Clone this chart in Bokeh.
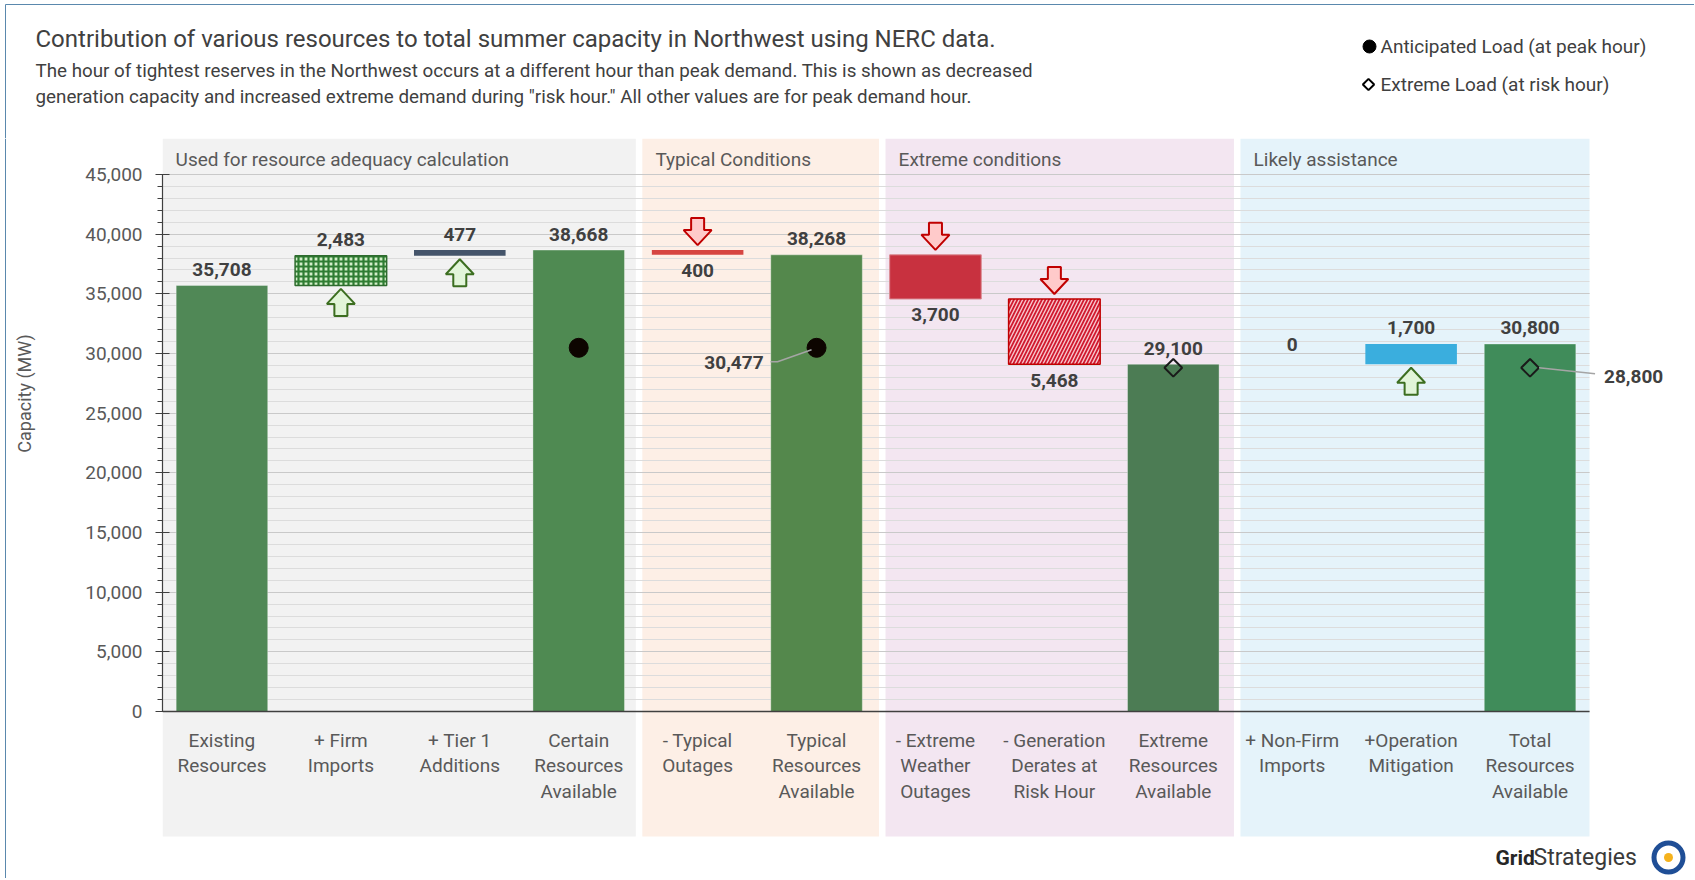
import numpy as np
from bokeh.plotting import figure
from bokeh.layouts import column, row
from bokeh.models import Range1d, FixedTicker, NumeralTickFormatter
from bokeh.core.properties import value
from bokeh.embed import file_html
from bokeh.resources import INLINE

# ---------------- data ----------------
categories = ["Existing\nResources", "+ Firm\nImports", "+ Tier 1\nAdditions",
              "Certain\nResources\nAvailable", "- Typical\nOutages",
              "Typical\nResources\nAvailable", "- Extreme\nWeather\nOutages",
              "- Generation\nDerates at\nRisk Hour", "Extreme\nResources\nAvailable",
              "+ Non-Firm\nImports", "+Operation\nMitigation",
              "Total\nResources\nAvailable"]
values = [35708, 2483, 477, 38668, -400, 38268, -3700, -5468, 29100, 0, 1700, 30800]
is_total = [True, False, False, True, False, True, False, False, True, False, False, True]
value_labels = ["35,708", "2,483", "477", "38,668", "400", "38,268", "3,700",
                "5,468", "29,100", "0", "1,700", "30,800"]
anticipated_load = 30477
anticipated_label = "30,477"
anticipated_idx = [3, 5]
extreme_load = 28800
extreme_label = "28,800"
extreme_idx = [8, 11]
groups = ["Used for resource adequacy calculation", "Typical Conditions",
          "Extreme conditions", "Likely assistance"]
group_left = [0.0, 4.035, 6.08, 9.065]
group_right = [3.98, 6.025, 9.01, 12.0]
group_colors = ["#f2f2f2", "#fdefe6", "#f3e6f1", "#e5f3fa"]
y_ticks = list(range(0, 45001, 5000))
y_minor_ticks = list(range(0, 45001, 1000))

title_text = "Contribution of various resources to total summer capacity in Northwest using NERC data."
subtitle_lines = ["The hour of tightest reserves in the Northwest occurs at a different hour than peak demand. This is shown as decreased",
                  'generation capacity and increased extreme demand during "risk hour." All other values are for peak demand hour.']
legend_labels = ["Anticipated Load (at peak hour)", "Extreme Load (at risk hour)"]

# waterfall geometry
n = len(categories)
xc = np.arange(n) + 0.5
bottoms, tops = [], []
running = 0
for v, t in zip(values, is_total):
    if t:
        b, tp = 0, v
        running = v
    else:
        b, tp = min(running, running + v), max(running, running + v)
        running += v
    bottoms.append(b)
    tops.append(tp)

# ---------------- layout constants ----------------
PAGE_W = 1694
HEAD_H = 138
MAIN_H = 740
YLAB_W = 40
AXIS_X = 162            # page x of the value axis
ZERO_Y = 711            # page y of 0 MW
TOP_Y = 174             # page y of 45,000 MW
CAT_W = 118.917         # px per category
MW = 45000 / (ZERO_Y - TOP_Y)   # MW per px
U = 1 / CAT_W                    # category units per px

FONT = "Roboto"
TXT = "#404040"
GRAY = "#595959"
FRAME = "#5a88ad"


def px(xp):
    return (xp - AXIS_X) * U


def py(yp):
    return (ZERO_Y - yp) * MW


# ---------------- header figure ----------------
head = figure(width=PAGE_W, height=HEAD_H, x_range=Range1d(0, PAGE_W),
              y_range=Range1d(HEAD_H, 0), output_backend="svg", toolbar_location=None,
              x_axis_location=None, y_axis_location=None, min_border=0,
              outline_line_color=None)
head.grid.visible = False
head.segment(x0=[5, 5], y0=[4, 4], x1=[PAGE_W, 5], y1=[4, HEAD_H],
             line_color=FRAME, line_width=1)
head.text(x=[35], y=[38], text=[title_text], text_font=value(FONT),
          text_font_size="24px", text_color=TXT, text_baseline="middle")
head.text(x=[35, 35], y=[70, 96], text=subtitle_lines, text_font=value(FONT),
          text_font_size="18.8px", text_color=TXT, text_baseline="middle")
head.scatter(x=[1369], y=[46], marker="circle", size=13, fill_color="#000000",
             line_color="#000000")
head.scatter(x=[1368], y=[84], marker="square", angle=np.pi / 4, size=8,
             fill_color="white", line_color="#000000", line_width=2)
head.text(x=[1380, 1380], y=[46, 84], text=legend_labels, text_font=value(FONT),
          text_font_size="19px", text_color=TXT, text_baseline="middle")

# ---------------- y label figure ----------------
ylab = figure(width=YLAB_W, height=MAIN_H, x_range=Range1d(0, YLAB_W),
              y_range=Range1d(HEAD_H + MAIN_H, HEAD_H), output_backend="svg",
              toolbar_location=None, x_axis_location=None, y_axis_location=None,
              min_border=0, outline_line_color=None)
ylab.grid.visible = False
ylab.segment(x0=[5], y0=[HEAD_H], x1=[5], y1=[HEAD_H + MAIN_H], line_color=FRAME,
             line_width=1)
ylab.text(x=[24], y=[393], text=["Capacity (MW)"], angle=np.pi / 2,
          text_font=value(FONT), text_font_size="18px", text_color=GRAY,
          text_align="center", text_baseline="middle")

# ---------------- main figure ----------------
MAIN_W = PAGE_W - YLAB_W
x_end = (PAGE_W - AXIS_X) * U
y_end = py(HEAD_H)
y_start = py(HEAD_H + MAIN_H)

p = figure(width=MAIN_W, height=MAIN_H, x_range=Range1d(0, x_end),
           y_range=Range1d(y_start, y_end), output_backend="svg", toolbar_location=None,
           x_axis_location=None, min_border_left=AXIS_X - YLAB_W, min_border_right=0,
           min_border_top=0, min_border_bottom=0, outline_line_color=None)

# background bands
p.quad(left=group_left, right=group_right, bottom=py(836), top=y_end,
       fill_color=group_colors, line_color=None, level="image")

# axis & grid
ticker = FixedTicker(ticks=y_ticks, minor_ticks=y_minor_ticks)
ax = p.yaxis[0]
ax.ticker = ticker
ax.formatter = NumeralTickFormatter(format="0,0")
ax.bounds = (0, 45000)
ax.axis_line_color = "#404040"
ax.axis_line_width = 1.2
ax.major_tick_line_color = "#404040"
ax.major_tick_in = 7
ax.major_tick_out = 7
ax.minor_tick_line_color = "#404040"
ax.minor_tick_in = 0
ax.minor_tick_out = 5
ax.major_label_text_font = FONT
ax.major_label_text_font_size = "19px"
ax.major_label_text_color = GRAY
ax.major_label_standoff = 13

g = p.ygrid[0]
g.ticker = ticker
g.bounds = (0, 45000)
g.grid_line_color = "#c9c9c9"
g.grid_line_width = 1.2
g.minor_grid_line_color = "#dcdcdc"
g.minor_grid_line_width = 1
has_cross = "cross_bounds" in g.properties()
if has_cross:
    g.cross_bounds = (0, n)
p.xgrid.grid_line_color = None
if not has_cross:
    p.quad(left=[n], right=[x_end], bottom=[-500], top=[46000], fill_color="white",
           line_color=None)

# group labels
p.text(x=[l + 0.11 for l in group_left], y=[py(159)] * 4, text=groups,
       text_font=value(FONT), text_font_size="19px", text_color=GRAY,
       text_align="left", text_baseline="middle")

# bars
BW = 0.77
total_colors = {0: "#508856", 3: "#4f8a52", 5: "#54884c", 8: "#4c7c54", 11: "#408c5a"}
ti = [i for i in range(n) if is_total[i]]
p.vbar(x=xc[ti], bottom=[bottoms[i] for i in ti], top=[tops[i] for i in ti], width=BW,
       fill_color=[total_colors[i] for i in ti], line_color="white", line_alpha=0.35,
       line_width=1)
# firm imports (confetti pattern)
p.vbar(x=[xc[1]], bottom=[bottoms[1]], top=[tops[1]], width=BW,
       fill_color="#d3eec9", hatch_pattern="cross", hatch_color="#2f7d32",
       hatch_scale=5, hatch_weight=2.2, line_color="#2e6b2e", line_width=1.5)
# tier 1
p.vbar(x=[xc[2]], bottom=[bottoms[2]], top=[tops[2]], width=BW,
       fill_color="#44546a", line_color=None)
# typical outages
p.vbar(x=[xc[4]], bottom=[bottoms[4]], top=[tops[4]], width=BW,
       fill_color="#d64541", line_color=None)
# extreme weather outages
p.vbar(x=[xc[6]], bottom=[bottoms[6]], top=[tops[6]], width=BW,
       fill_color="#c8313f", line_color="#d98890", line_width=1)
# generation derates (striped)
p.vbar(x=[xc[7]], bottom=[bottoms[7]], top=[tops[7]], width=BW,
       fill_color="#d0182e", hatch_pattern="right_diagonal_line", hatch_color="#f7c5cb",
       hatch_scale=7, hatch_weight=1.4, line_color="#c00000", line_width=1.5)
# operation mitigation
p.vbar(x=[xc[10]], bottom=[bottoms[10]], top=[tops[10]], width=BW,
       fill_color="#3aaede", line_color=None)

# zero line
p.segment(x0=[0], y0=[0], x1=[n], y1=[0], line_color="#404040", line_width=1.5)

# arrows
up_xs, up_ys, dn_xs, dn_ys = [], [], [], []
hw, sw, hh, th = 14 * U, 6.5 * U, 15 * MW, 27 * MW
for i in range(n):
    if is_total[i] or values[i] == 0:
        continue
    c = xc[i]
    if values[i] > 0:
        tip = bottoms[i] - 3.5 * MW
        up_xs.append([c, c + hw, c + sw, c + sw, c - sw, c - sw, c - hw])
        up_ys.append([tip, tip - hh, tip - hh, tip - th, tip - th, tip - hh, tip - hh])
    else:
        tip = tops[i] + 5 * MW
        dn_xs.append([c, c + hw, c + sw, c + sw, c - sw, c - sw, c - hw])
        dn_ys.append([tip, tip + hh, tip + hh, tip + th, tip + th, tip + hh, tip + hh])
p.patches(up_xs, up_ys, fill_color="#e2f5d9", line_color="#3c6e20", line_width=2)
p.patches(dn_xs, dn_ys, fill_color="#ffcaca", line_color="#c00000", line_width=2)

# value labels
lab_y = []
for i in range(n):
    if values[i] < 0:
        lab_y.append(bottoms[i] - 16 * MW)
    elif values[i] == 0:
        lab_y.append(tops[i] + 20 * MW)
    else:
        lab_y.append(tops[i] + 16 * MW)
p.text(x=xc, y=lab_y, text=value_labels, text_font=value(FONT),
       text_font_size="19px", text_font_style="bold", text_color=TXT,
       text_align="center", text_baseline="middle")

# load markers
p.scatter(x=xc[anticipated_idx], y=[anticipated_load] * 2,
          marker="circle", size=19, fill_color="#0d0500", line_color="#0d0500")
p.scatter(x=xc[extreme_idx], y=[extreme_load] * 2,
          marker="square", angle=np.pi / 4, size=12.5, fill_color=None,
          line_color="#1a1a1a", line_width=2)

# 30,477 callout
c5 = xc[anticipated_idx[1]]
p.line(x=[c5 - 46 * U, c5 - 39 * U, c5 - 5 * U],
       y=[anticipated_load - 14 * MW, anticipated_load - 14 * MW, anticipated_load - 2 * MW],
       line_color="#a5a5a5", line_width=1.5)
p.text(x=[c5 - 53 * U], y=[anticipated_load - 15 * MW], text=[anticipated_label],
       text_font=value(FONT), text_font_size="19px", text_font_style="bold",
       text_color=TXT, text_align="right", text_baseline="middle")

# 28,800 callout
c11 = xc[extreme_idx[1]]
p.line(x=[c11 + 9 * U, c11 + 65 * U], y=[extreme_load, extreme_load - 6 * MW],
       line_color="#a5a5a5", line_width=1.5)
p.text(x=[c11 + 74 * U], y=[extreme_load - 8.5 * MW], text=[extreme_label],
       text_font=value(FONT), text_font_size="19px", text_font_style="bold",
       text_color=TXT, text_align="left", text_baseline="middle")

# category labels
p.text(x=xc, y=[-17 * MW] * n, text=categories, text_font=value(FONT),
       text_font_size="19px", text_color=GRAY, text_align="center",
       text_baseline="top", text_line_height=1.12)

# logo
p.text(x=[px(1495)], y=[py(857)], text=["Grid"], text_font=value(FONT),
       text_font_size="21px", text_font_style="bold", text_color="#262626",
       text_baseline="middle")
p.text(x=[px(1533)], y=[py(857)], text=["Strategies"], text_font=value(FONT),
       text_font_size="23px", text_color="#3a3a3a", text_baseline="middle")
p.scatter(x=[px(1668)], y=[py(857)], marker="circle", size=29, fill_color=None,
          line_color="#1f4e96", line_width=5)
p.scatter(x=[px(1668)], y=[py(857)], marker="circle", size=9, fill_color="#f5b21c",
          line_color=None)

layout = column(head, row(ylab, p, spacing=0), spacing=0)
open("out.html", "w").write(file_html(layout, INLINE))
